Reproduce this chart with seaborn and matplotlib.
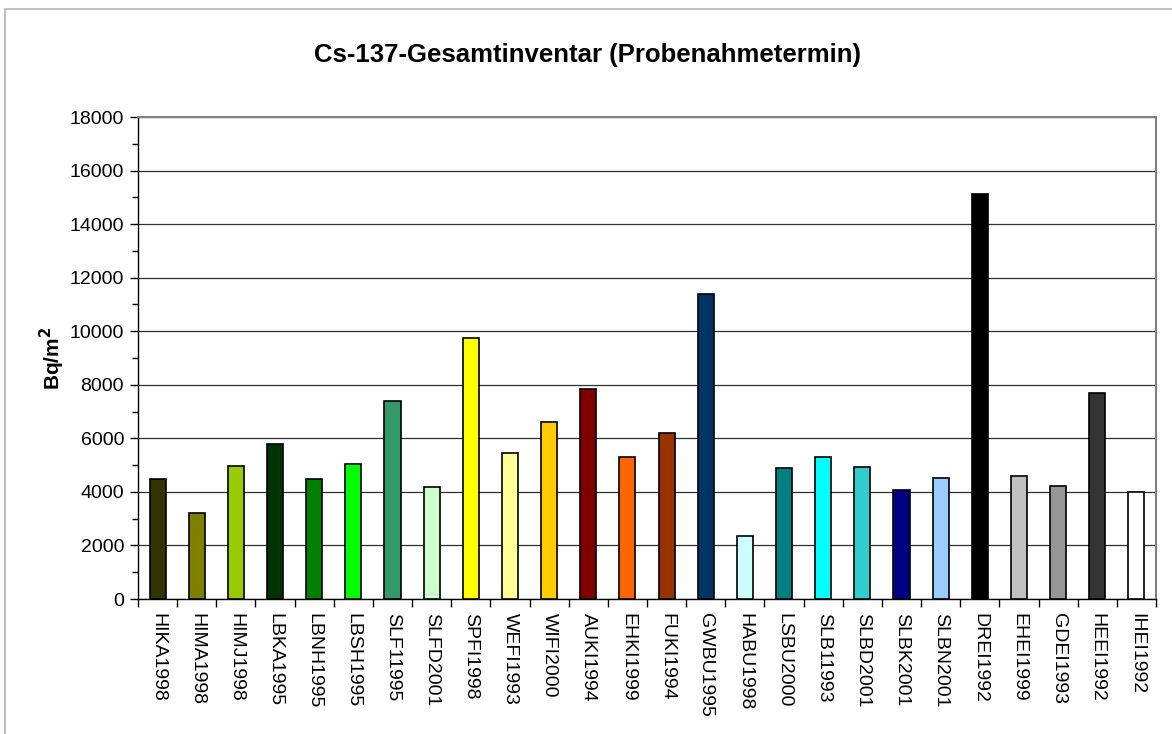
import matplotlib
matplotlib.use("Agg")
import matplotlib.pyplot as plt
import matplotlib.patches as mpatches
import seaborn as sns
import pandas as pd
import numpy as np

# data
sites = ['HIKA1998', 'HIMA1998', 'HIMJ1998', 'LBKA1995', 'LBNH1995', 'LBSH1995',
         'SLF11995', 'SLFD2001', 'SPFI1998', 'WEFI1993', 'WIFI2000', 'AUKI1994',
         'EHKI1999', 'FUKI1994', 'GWBU1995', 'HABU1998', 'LSBU2000', 'SLB11993',
         'SLBD2001', 'SLBK2001', 'SLBN2001', 'DREI1992', 'EHEI1999', 'GDEI1993',
         'HEEI1992', 'IHEI1992']
inventory = [4500, 3220, 4975, 5790, 4480, 5025,
             7410, 4165, 9760, 5460, 6610, 7825,
             5310, 6200, 11390, 2335, 4900, 5300,
             4940, 4075, 4510, 15120, 4590, 4210,
             7690, 3980]
bar_colors = ['#333300', '#808000', '#99CC00', '#003300', '#008000', '#00FF00',
              '#339966', '#CCFFCC', '#FFFF00', '#FFFF99', '#FFCC00', '#800000',
              '#FF6600', '#993300', '#003366', '#CCFFFF', '#008080', '#00FFFF',
              '#33CCCC', '#000080', '#99CCFF', '#000000', '#C0C0C0', '#969696',
              '#333333', '#FFFFFF']

sns.set_style("white")
plt.rcParams['font.family'] = ['Liberation Sans', 'DejaVu Sans']
plt.rcParams['text.color'] = 'black'
plt.rcParams['axes.labelcolor'] = 'black'
plt.rcParams['xtick.color'] = 'black'
plt.rcParams['ytick.color'] = 'black'

df = pd.DataFrame({'site': sites, 'value': inventory})

fig = plt.figure(figsize=(11.72, 7.34), dpi=100)
ax = fig.add_axes([138 / 1172, 1 - 599 / 734, (1156 - 138) / 1172, (599 - 117) / 734])

# outer chart frame
fig.patches.append(mpatches.Rectangle((5 / 1172, -0.05), 1.1, 1 - 9 / 734 + 0.05,
                                      transform=fig.transFigure, fill=False,
                                      edgecolor='#c0c0c0', linewidth=1.5, zorder=0))

sns.barplot(data=df, x='site', y='value', hue='site', palette=dict(zip(sites, bar_colors)),
            saturation=1, legend=False, width=0.41, edgecolor='black', linewidth=1.2,
            ax=ax, zorder=3)

ax.set_ylim(0, 18000)
ax.set_xlim(-0.5, len(sites) - 0.5)
ax.set_yticks(np.arange(0, 18001, 2000))
ax.set_yticks(np.arange(0, 18001, 1000), minor=True)
ax.yaxis.grid(True, which='major', color='#303030', linewidth=0.9, zorder=0)
ax.set_axisbelow(True)

ax.set_xticks(np.arange(len(sites)))
ax.set_xticklabels(sites, rotation=270, fontsize=14, va='top', ha='center')
ax.set_xticks(np.arange(-0.5, len(sites), 1.0), minor=True)
ax.tick_params(axis='x', which='major', length=0, pad=10)
ax.tick_params(axis='x', which='minor', direction='out', length=6, width=1, color='black')
ax.tick_params(axis='y', which='major', direction='out', length=6, width=1, color='black',
               labelsize=14, pad=4)
ax.tick_params(axis='y', which='minor', direction='out', length=4, width=1, color='black')
ax.tick_params(bottom=True, left=True, which='both')

for side in ['left', 'bottom']:
    ax.spines[side].set_color('black')
    ax.spines[side].set_linewidth(1.0)
for side in ['top', 'right']:
    ax.spines[side].set_visible(True)
    ax.spines[side].set_color('#808080')
    ax.spines[side].set_linewidth(1.5)

ax.set_xlabel('')
ax.set_ylabel(r'Bq/m$^\mathbf{2}$', fontsize=15, fontweight='bold', labelpad=2)

fig.text(587 / 1172, 1 - 55 / 734, 'Cs-137-Gesamtinventar (Probenahmetermin)',
         fontsize=18.5, fontweight='bold', ha='center', va='center')

fig.savefig('out.png', dpi=100, facecolor='white')
